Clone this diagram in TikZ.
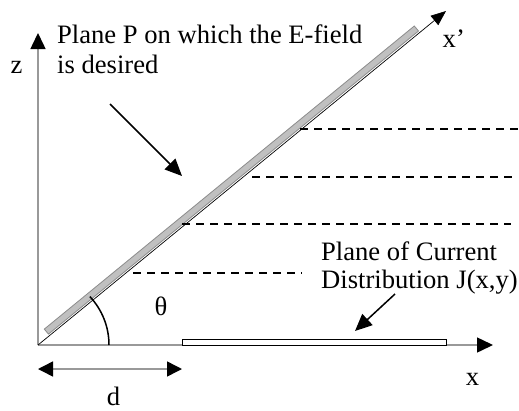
\documentclass[tikz,border=0pt]{standalone}
\usepackage{fontspec}
\setmainfont{Liberation Serif}
\usetikzlibrary{arrows.meta}
\definecolor{axisgray}{HTML}{999999}
\definecolor{barfill}{HTML}{C0C0C0}
\definecolor{baredge}{HTML}{8C8C8C}
\begin{document}
\begin{tikzpicture}[x=1pt,y=-1pt,
  lbl/.style={inner sep=0pt, font=\fontsize{26.6}{30}\selectfont},
  axisline/.style={draw=axisgray, line width=1.5pt, -{Triangle[length=16pt,width=15pt,color=black]}},
  primeaxis/.style={draw=black, line width=0.7pt, -{Triangle[length=15pt,width=12pt]}},
  dashline/.style={draw=black, line width=1.5pt, dash pattern=on 8pt off 6pt},
  pointer/.style={draw=black, line width=1.5pt, -{Triangle[length=17pt,width=15pt]}},
  dimline/.style={draw=axisgray, line width=1.5pt, {Triangle[length=15pt,width=15pt,color=black]}-{Triangle[length=15pt,width=15pt,color=black]}}
]
\useasboundingbox (0,0) rectangle (519,410);
% key points
\coordinate (O) at (38,345);
\coordinate (zT) at (38,33);
\coordinate (xT) at (493,345);
\coordinate (xpT) at (446,11);
% plane P bar
\coordinate (b1) at (44.3,329.1);
\coordinate (b2) at (414.3,26.0);
\coordinate (b3) at (418.5,31.0);
\coordinate (b4) at (48.5,334.1);
\draw[fill=barfill, draw=baredge, line width=0.8pt] (b1) -- (b2) -- (b3) -- (b4) -- cycle;
% axes
\draw[axisline] (O) -- (zT);
\draw[axisline] (O) -- (xT);
\draw[primeaxis] (O) -- (xpT);
% dashed lines
\coordinate (d1s) at (300,129); \coordinate (d1e) at (518,129);
\coordinate (d2s) at (252,177); \coordinate (d2e) at (513,177);
\coordinate (d3s) at (182,224); \coordinate (d3e) at (511,224);
\coordinate (d4s) at (133,273); \coordinate (d4e) at (302,273);
\draw[dashline] (d1s) -- (d1e);
\draw[dashline] (d2s) -- (d2e);
\draw[dashline, line width=1.2pt] (d3s) -- (d3e);
\draw[dashline] (d4s) -- (d4e);
% current plane
\coordinate (cp1) at (182,339);
\coordinate (cp2) at (446,345);
\draw[fill=white, draw=black, line width=0.9pt] (cp1) rectangle (cp2);
% angle arc
\coordinate (a1) at (109,345);
\coordinate (a2) at (89.9,296.6);
\draw[black, line width=1.5pt] (a1) .. controls (109,327) and (102.2,309.8) .. (a2);
% dimension d
\coordinate (dL) at (38,369);
\coordinate (dR) at (182,369);
\draw[dimline] (dL) -- (dR);
% pointers
\coordinate (p1s) at (110,104); \coordinate (p1e) at (182,176);
\coordinate (p2s) at (395,294); \coordinate (p2e) at (355,331);
\draw[pointer] (p1s) -- (p1e);
\draw[pointer] (p2s) -- (p2e);
% labels
\node[lbl, anchor=base] (zl) at (16.5,73) {z};
\node[lbl, anchor=base] (xl) at (472.5,385) {x};
\node[lbl, anchor=base west] (xpl) at (442.5,47) {x’};
\node[lbl, anchor=base] (dl) at (113.5,405) {d};
\node[lbl, anchor=base] (th) at (161,315) {θ};
\node[lbl, anchor=north west, align=left, font=\fontsize{26.6}{30}\selectfont] (t1) at (57,25) {Plane P on which the E-field\\is desired};
\node[lbl, anchor=north west, align=left, font=\fontsize{26.6}{28}\selectfont] (t2) at (321,242) {Plane of Current\\Distribution J(x,y)};
\end{tikzpicture}
\end{document}
